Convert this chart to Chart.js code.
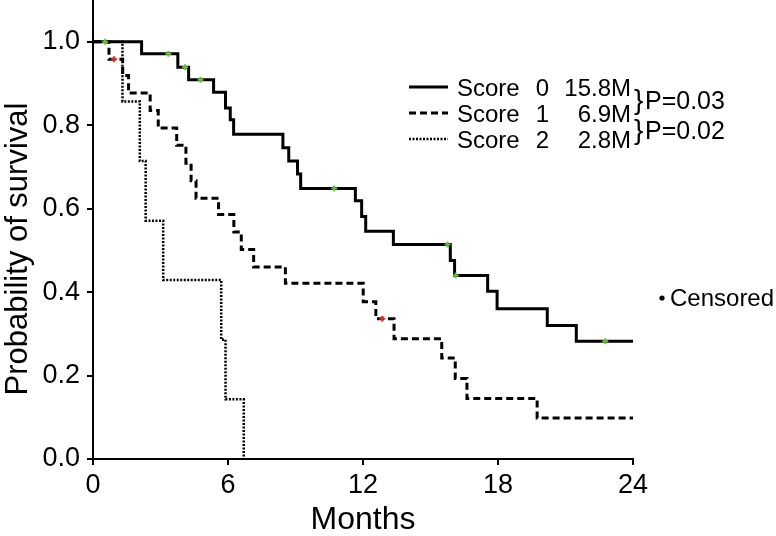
<!DOCTYPE html>
<html>
<head>
<meta charset="utf-8">
<script src="https://cdn.jsdelivr.net/npm/chart.js@4.4.1/dist/chart.umd.min.js"></script>
<style>
  html, body { margin: 0; padding: 0; background: #fff; }
  #wrap { width: 776px; height: 536px; position: relative; }
</style>
</head>
<body>
<div id="wrap"><canvas id="kmChart"></canvas></div>
<script>
// Kaplan-Meier curves, values (months, survival)
const score0Times = [0, 2.16, 3.77, 4.25, 5.36, 5.89, 6.1, 6.25, 8.44, 8.7, 9.09, 9.23, 11.66, 11.94, 12.12, 13.35, 15.88, 16.07, 17.54, 17.96, 20.19, 21.48, 24];
const score0Surv = [1.0, 0.971, 0.939, 0.909, 0.879, 0.841, 0.813, 0.778, 0.746, 0.714, 0.683, 0.648, 0.619, 0.581, 0.546, 0.514, 0.476, 0.44, 0.402, 0.36, 0.32, 0.282, 0.282];
const score0CensTimes = [0.54, 3.35, 4.09, 4.78, 10.72, 15.76, 16.12, 22.77];
const score0CensSurv = [1.0, 0.971, 0.939, 0.909, 0.648, 0.514, 0.44, 0.282];

const score1Times = [0, 0.71, 1.32, 1.58, 2.54, 2.9, 3.72, 4.13, 4.36, 4.58, 5.58, 6.26, 6.59, 7.14, 8.55, 12.01, 12.57, 13.38, 15.5, 16.1, 16.62, 19.74, 24];
const score1Surv = [1.0, 0.958, 0.919, 0.877, 0.835, 0.793, 0.752, 0.709, 0.667, 0.625, 0.586, 0.544, 0.502, 0.46, 0.421, 0.377, 0.336, 0.288, 0.242, 0.193, 0.145, 0.098, 0.098];
const score1CensTimes = [0.94, 12.86];
const score1CensSurv = [0.958, 0.336];

const score2Times = [0, 1.31, 2.08, 2.34, 3.12, 5.7, 5.89, 6.7];
const score2Surv = [1.0, 0.857, 0.714, 0.571, 0.429, 0.286, 0.143, 0.0];

const xTicks = [0, 6, 12, 18, 24];
const yTicks = [0, 0.2, 0.4, 0.6, 0.8, 1.0];

const scoreLabels = ["0", "1", "2"];
const medianLabels = ["15.8M", "6.9M", "2.8M"];
const pLabels = ["P=0.03", "P=0.02"];

const pts = (xs, ys) => xs.map((x, i) => ({ x, y: ys[i] }));

const curveStyles = [
  { borderWidth: 3, borderDash: [] },
  { borderWidth: 3, borderDash: [7, 4] },
  { borderWidth: 2.5, borderDash: [2, 1.5] },
];

const FONT = '"Liberation Sans", Arial, Helvetica, sans-serif';

const kmLegend = {
  id: "kmLegend",
  afterDraw(chart) {
    const ctx = chart.ctx;
    ctx.save();
    ctx.fillStyle = "#000";
    ctx.strokeStyle = "#000";
    scoreLabels.forEach((s, i) => {
      const y = 87 + i * 26;
      ctx.lineWidth = curveStyles[i].borderWidth;
      ctx.setLineDash(curveStyles[i].borderDash);
      ctx.beginPath();
      ctx.moveTo(409, y);
      ctx.lineTo(448, y);
      ctx.stroke();
      ctx.setLineDash([]);
      ctx.font = "24px " + FONT;
      ctx.textBaseline = "middle";
      ctx.textAlign = "left";
      ctx.fillText("Score", 457, y + 2);
      ctx.textAlign = "right";
      ctx.fillText(s, 549, y + 2);
      ctx.fillText(medianLabels[i], 631, y + 2);
    });
    pLabels.forEach((p, i) => {
      const y = i === 0 ? 101 : 131;
      ctx.textAlign = "left";
      ctx.font = "28px " + FONT;
      ctx.fillText("}", 634, y);
      ctx.font = "25px " + FONT;
      ctx.fillText(p, 645, y + 1);
    });
    // censored key
    ctx.beginPath();
    ctx.arc(662, 298, 2.6, 0, Math.PI * 2);
    ctx.fill();
    ctx.font = "24px " + FONT;
    ctx.textAlign = "left";
    ctx.fillText("Censored", 670, 299);

    // y axis title, sits a bit below the plot centre in the original
    ctx.translate(18, 249);
    ctx.rotate(-Math.PI / 2);
    ctx.font = "31px " + FONT;
    ctx.textAlign = "center";
    ctx.fillText("Probability of survival", 0, 0);
    ctx.restore();
  },
};

const curve = (xs, ys, i) => ({
  data: pts(xs, ys),
  stepped: true,
  borderColor: "#000",
  borderWidth: curveStyles[i].borderWidth,
  borderDash: curveStyles[i].borderDash,
  borderCapStyle: "butt",
  pointRadius: 0,
  fill: false,
  order: 2,
});

const censor = (xs, ys, color) => ({
  data: pts(xs, ys),
  showLine: false,
  pointStyle: "cross",
  pointRadius: 3,
  pointBorderWidth: 2,
  pointBorderColor: color,
  pointBackgroundColor: color,
  order: 1,
});

new Chart(document.getElementById("kmChart"), {
  type: "line",
  data: {
    datasets: [
      curve(score0Times, score0Surv, 0),
      curve(score1Times, score1Surv, 1),
      curve(score2Times, score2Surv, 2),
      censor(score0CensTimes, score0CensSurv, "#6cbf3f"),
      censor(score1CensTimes, score1CensSurv, "#e0302a"),
    ],
  },
  options: {
    responsive: true,
    maintainAspectRatio: false,
    animation: false,
    layout: { autoPadding: false, padding: { top: 0, right: 143, bottom: 0, left: 0 } },
    plugins: { legend: { display: false }, tooltip: { enabled: false } },
    scales: {
      x: {
        type: "linear",
        min: 0,
        max: 24,
        afterBuildTicks: s => { s.ticks = xTicks.map(v => ({ value: v })); },
        afterFit: s => { s.height = 77; s.paddingLeft = 0; s.paddingRight = 0; },
        border: { display: true, color: "#000", width: 2 },
        grid: { drawOnChartArea: false, drawTicks: true, tickLength: 6, color: "#000", lineWidth: 2 },
        ticks: { color: "#000", padding: 4, font: { family: FONT, size: 27 }, maxRotation: 0 },
        title: { display: true, text: "Months", color: "#000", font: { family: FONT, size: 32, lineHeight: 1.0 }, padding: { top: 0, bottom: 0 } },
      },
      y: {
        min: 0,
        max: 1.1,
        afterBuildTicks: s => { s.ticks = yTicks.map(v => ({ value: v })); },
        afterFit: s => { s.width = 93; s.paddingTop = 0; s.paddingBottom = 0; },
        border: { display: true, color: "#000", width: 2 },
        grid: { drawOnChartArea: false, drawTicks: true, tickLength: 6, color: "#000", lineWidth: 2 },
        ticks: { color: "#000", padding: 7, font: { family: FONT, size: 27 }, callback: v => v.toFixed(1) },
        title: { display: false },
      },
    },
  },
  plugins: [kmLegend],
});
</script>
</body>
</html>
